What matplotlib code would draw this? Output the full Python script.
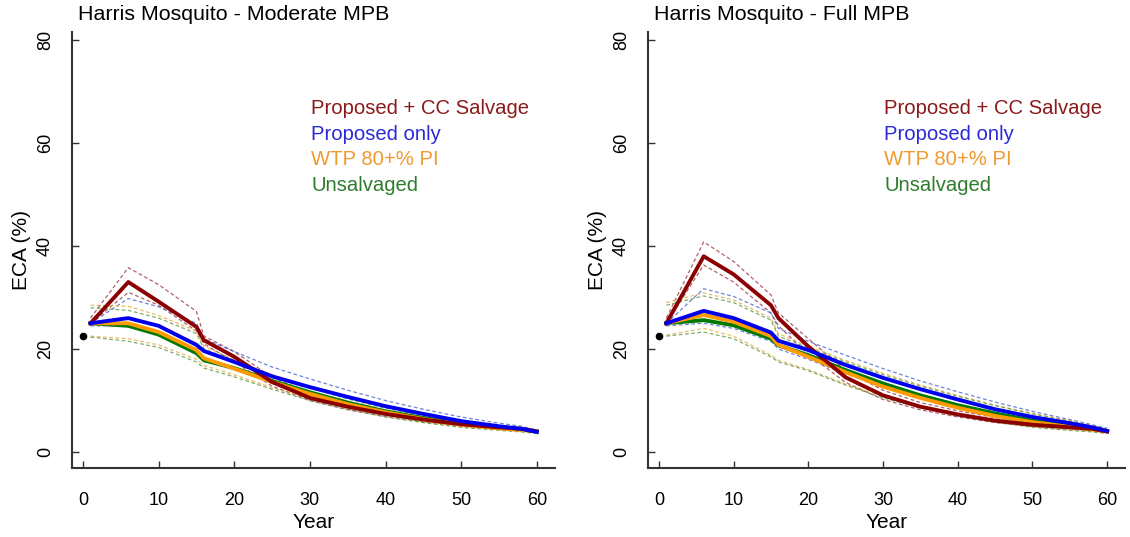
import numpy as np
import matplotlib
matplotlib.use('Agg')
from matplotlib import pyplot as plt

plt.rcParams['font.family'] = ['Liberation Sans', 'DejaVu Sans']

years = [1, 6, 10, 15, 16, 20, 25, 30, 35, 40, 45, 50, 55, 58, 60]
start_year = 0
start_eca = 22.5

labels = ['Proposed + CC Salvage', 'Proposed only', 'WTP 80+% PI', 'Unsalvaged']

# ---- Moderate MPB (left) ----
mod_cc = [25, 33, 29.2, 24.3, 21.7, 18.5, 13.6, 10.5, 8.8, 7.4, 6.3, 5.4, 4.8, 4.5, 4.0]
mod_prop = [25, 26, 24.5, 20.8, 19.6, 17.5, 14.7, 12.6, 10.7, 8.9, 7.4, 6.0, 5.0, 4.5, 3.9]
mod_wtp = [25, 25, 23.3, 19.8, 18.2, 16.2, 13.6, 11.3, 9.3, 7.7, 6.4, 5.3, 4.6, 4.3, 4.0]
mod_uns = [25, 24.5, 22.8, 19.2, 17.8, 16.3, 13.8, 11.6, 9.6, 7.9, 6.6, 5.5, 4.7, 4.4, 4.0]

mod_cc_hi = [26, 35.8, 32.5, 27.3, 22.5, 19.5, 14.5, 11.5, 9.5, 8.0, 6.7, 5.8, 5.0, 4.6, 4.2]
mod_cc_lo = [25, 31, 28.5, 23.5, 21, 17.5, 12.8, 10.0, 8.2, 6.9, 5.9, 5.1, 4.6, 4.3, 3.9]
mod_prop_hi = [25, 29.8, 28.2, 25, 22, 19.5, 16.5, 14.2, 12, 10, 8.3, 6.8, 5.6, 5.0, 4.3]
mod_prop_lo = [24.5, 24.5, 22.8, 19.5, 18, 16.0, 13.5, 11.2, 9.3, 7.7, 6.4, 5.3, 4.5, 4.2, 3.8]
mod_wtp_hi = [28.5, 28.3, 26.5, 23.5, 20.5, 18, 15, 12.6, 10.5, 8.7, 7.2, 5.9, 4.9, 4.5, 4.1]
mod_wtp_lo = [22.5, 22.0, 20.8, 18, 16.8, 15, 12.5, 10.3, 8.5, 7.0, 5.8, 4.9, 4.3, 4.0, 3.7]
mod_uns_hi = [28.0, 27.5, 26.0, 23, 20, 17.8, 14.8, 12.4, 10.3, 8.5, 7.0, 5.8, 4.8, 4.4, 4.0]
mod_uns_lo = [22.3, 21.5, 20.3, 17.5, 16.3, 14.6, 12.2, 10.0, 8.3, 6.8, 5.7, 4.8, 4.2, 3.9, 3.6]

# ---- Full MPB (right) ----
full_cc = [25, 38, 34.5, 28.5, 26, 20.5, 14.5, 11, 8.8, 7.3, 6.1, 5.3, 4.8, 4.5, 4.0]
full_prop = [25, 27.4, 26, 23.2, 21.6, 19.8, 16.9, 14.4, 12.2, 10.2, 8.3, 6.8, 5.6, 4.8, 4.1]
full_wtp = [25, 26.6, 25.3, 22.5, 20.8, 18.5, 15.5, 12.7, 10.5, 8.6, 7.0, 5.8, 4.9, 4.4, 4.0]
full_uns = [25, 25.6, 24.6, 22.0, 20.7, 18.8, 15.9, 13.3, 11.0, 9.1, 7.5, 6.1, 5.1, 4.5, 4.0]

full_cc_hi = [26, 40.8, 37, 30.5, 27, 22, 15.8, 12, 9.6, 8, 6.7, 5.8, 5.1, 4.7, 4.3]
full_cc_lo = [25, 36.3, 33, 27, 24.5, 19, 13.5, 10.2, 8.2, 6.8, 5.7, 5.0, 4.5, 4.2, 3.8]
full_prop_hi = [25, 31.7, 30.2, 27, 24, 21.5, 18.8, 16.2, 13.8, 11.7, 9.7, 7.9, 6.3, 5.3, 4.6]
full_prop_lo = [24.5, 25, 24, 21.5, 20, 18, 15.2, 12.7, 10.6, 8.8, 7.2, 5.9, 4.9, 4.4, 3.9]
full_wtp_hi = [29, 30.9, 29.5, 26, 23, 20.5, 17.8, 15.3, 13, 11, 9.1, 7.5, 6.1, 5.1, 4.5]
full_wtp_lo = [22.7, 24, 22.5, 18.8, 17.8, 16, 13.2, 10.8, 8.8, 7.2, 5.9, 4.9, 4.3, 4.0, 3.7]
full_uns_hi = [28.5, 30.3, 29, 25.6, 22.5, 20.2, 17.5, 15.0, 12.8, 10.8, 9.0, 7.4, 6.0, 5.0, 4.4]
full_uns_lo = [22.5, 23.3, 22, 18.5, 17.5, 15.8, 13.0, 10.5, 8.6, 7.0, 5.8, 4.8, 4.2, 3.9, 3.6]

line_cols = ['#8b0000', '#0000ee', '#ff9a00', '#007a00']
dash_cols = ['#8b2030', '#3050d0', '#e0a020', '#4a8a30']
text_cols = ['#8b1a1a', '#2a2ad8', '#f09a30', '#2e7d2e']


def draw_panel(ax, title, mains, his, los):
    # uncertainty bounds (dashed) first
    for hi, lo, c in zip(his, los, dash_cols):
        ax.plot(years, hi, ls=(0, (3, 2)), lw=0.9, color=c, alpha=0.7)
        ax.plot(years, lo, ls=(0, (3, 2)), lw=0.9, color=c, alpha=0.7)
    # main lines, drawn so that blue sits on top
    for i in [3, 2, 0, 1]:
        ax.plot(years, mains[i], lw=2.8, color=line_cols[i], solid_joinstyle='round')
    ax.plot([start_year], [start_eca], 'o', color='black', ms=4.5)

    ax.set_xlim(-1.45, 62.4)
    ax.set_ylim(-3.1, 81.5)
    ax.set_xticks(np.arange(0, 61, 10))
    ax.set_yticks(np.arange(0, 81, 20))
    for s in ['top', 'right']:
        ax.spines[s].set_visible(False)
    for s in ['left', 'bottom']:
        ax.spines[s].set_color('#333333')
        ax.spines[s].set_linewidth(1.5)
    ax.tick_params(direction='in', length=5, width=1, colors='#333333',
                   labelcolor='black', labelsize=13)
    ax.tick_params(axis='x', pad=17)
    ax.tick_params(axis='y', pad=13)
    for t in ax.get_yticklabels():
        t.set_rotation(90)
        t.set_va('center')
    ax.set_xlabel('Year', fontsize=15, labelpad=3)
    ax.set_ylabel('ECA (%)', fontsize=15, labelpad=4)
    ax.text(-0.6, 83.9, title, fontsize=15.4, ha='left', va='baseline', clip_on=False)

    # legend as coloured text, no box
    for k, (lab, c) in enumerate(zip(labels, text_cols)):
        ax.text(30.2, 66.6 - k * 4.95, lab, color=c, fontsize=14.6, ha='left', va='center')


fig = plt.figure(figsize=(11.3, 5.37), dpi=100)
ax1 = fig.add_axes([0.0637, 0.1285, 0.4274, 0.8115])
ax2 = fig.add_axes([0.5735, 0.1285, 0.4221, 0.8115])

draw_panel(ax1, 'Harris Mosquito - Moderate MPB',
           [mod_cc, mod_prop, mod_wtp, mod_uns],
           [mod_cc_hi, mod_prop_hi, mod_wtp_hi, mod_uns_hi],
           [mod_cc_lo, mod_prop_lo, mod_wtp_lo, mod_uns_lo])
draw_panel(ax2, 'Harris Mosquito - Full MPB',
           [full_cc, full_prop, full_wtp, full_uns],
           [full_cc_hi, full_prop_hi, full_wtp_hi, full_uns_hi],
           [full_cc_lo, full_prop_lo, full_wtp_lo, full_uns_lo])

fig.savefig('out.png', dpi=100, facecolor='white')
